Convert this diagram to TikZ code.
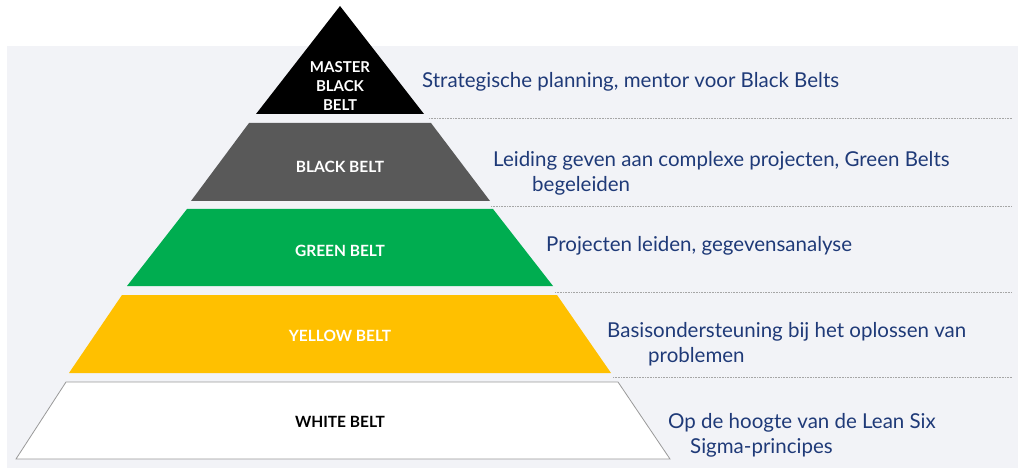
\documentclass[tikz,border=0pt]{standalone}
\usepackage{fontspec}
\setmainfont{Lato}
\begin{document}
\begin{tikzpicture}[x=1pt,y=-1pt,
  lab/.style={font=\bfseries\fontsize{15.5}{18}\selectfont,align=center},
  desc/.style={anchor=west,inner sep=0,text=navy,font=\fontsize{20.5}{24}\selectfont},
  sep/.style={densely dotted,gray!70,line width=0.6pt}]
\definecolor{navy}{HTML}{1F3A78}
\definecolor{panel}{HTML}{F2F3F7}
\definecolor{dgray}{HTML}{595959}
\definecolor{gbelt}{HTML}{00AD50}
\definecolor{ybelt}{HTML}{FFC000}
\useasboundingbox (0,0) rectangle (1024,470);
\fill[panel] (7,46) rectangle (1018,468);
\fill[black] (340,6) -- (424,114) -- (256,114) -- cycle;
\fill[dgray] (249,123) -- (431,123) -- (490,201) -- (191,201) -- cycle;
\fill[gbelt] (187,209) -- (493,209) -- (553,286) -- (127,286) -- cycle;
\fill[ybelt] (122,295) -- (557,295) -- (611,373) -- (69,373) -- cycle;
\filldraw[fill=white,draw=gray!80,line width=0.8pt] (66,382) -- (618,382) -- (670,459) -- (16,459) -- cycle;
\node[lab,text=white,font=\bfseries\fontsize{15}{19}\selectfont] (m) at (340,86) {MASTER\\BLACK\\BELT};
\node[lab,text=white] (b) at (340,167) {BLACK BELT};
\node[lab,text=white] (g) at (340,251) {GREEN BELT};
\node[lab,text=white] (y) at (340,336) {YELLOW BELT};
\node[lab,text=black] (w) at (340,422) {WHITE BELT};
\coordinate (s1a) at (429,118); \coordinate (s1b) at (1012,118);
\coordinate (s2a) at (491,206); \coordinate (s2b) at (1012,206);
\coordinate (s3a) at (555,292); \coordinate (s3b) at (1012,292);
\coordinate (s4a) at (613,377); \coordinate (s4b) at (1012,377);
\draw[sep] (s1a) -- (s1b);
\draw[sep] (s2a) -- (s2b);
\draw[sep] (s3a) -- (s3b);
\draw[sep] (s4a) -- (s4b);
\node[desc] (d1) at (422,82) {Strategische planning, mentor voor Black Belts};
\node[desc] (d2) at (493,161) {Leiding geven aan complexe projecten, Green Belts};
\node[desc] (d2b) at (532,186) {begeleiden};
\node[desc] (d3) at (546,246) {Projecten leiden, gegevensanalyse};
\node[desc] (d4) at (607,332) {Basisondersteuning bij het oplossen van};
\node[desc] (d4b) at (648,357) {problemen};
\node[desc] (d5) at (668,423) {Op de hoogte van de Lean Six};
\node[desc] (d5b) at (690,448) {Sigma-principes};
\end{tikzpicture}
\end{document}
